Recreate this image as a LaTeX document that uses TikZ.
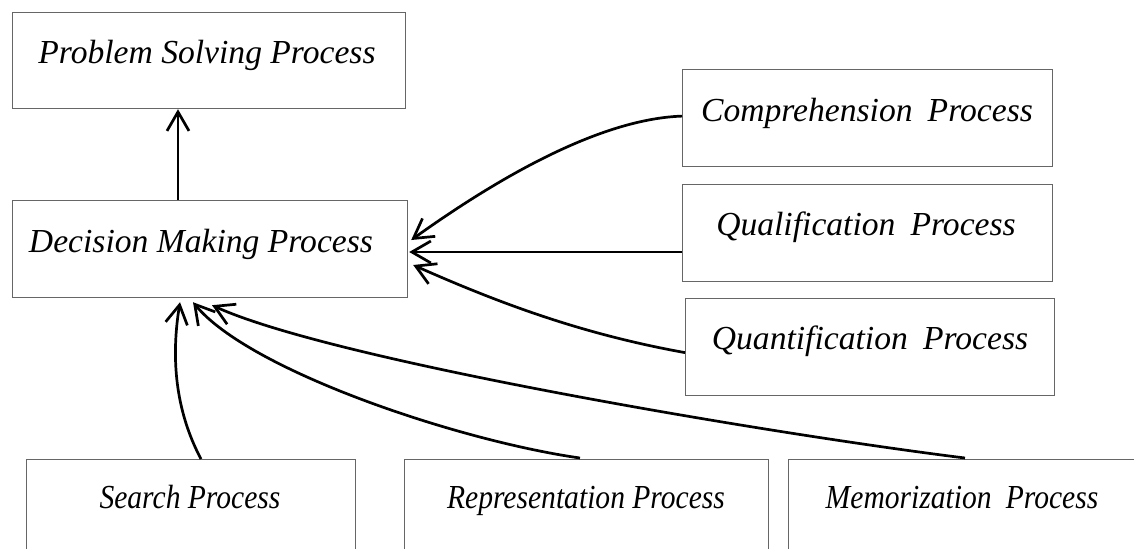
\documentclass[tikz,border=0pt]{standalone}
\usepackage{fontspec}
\setmainfont{Liberation Serif}
\newfontfamily\condserif{Liberation Serif}[FakeStretch=0.88]
\usetikzlibrary{arrows.meta,calc}
\begin{document}
\begin{tikzpicture}[x=0.5pt,y=-0.5pt,
  box/.style={draw=black!60, line width=0.6pt, rectangle, inner sep=0pt, anchor=north west, minimum height=48.5pt},
  lbl/.style={font=\fontsize{16.8}{18}\selectfont\itshape, anchor=base, inner sep=0pt},
  blbl/.style={font=\condserif\fontsize{16.8}{18}\selectfont\itshape, anchor=base, inner sep=0pt},
  conn/.style={line width=1.35pt, -{Straight Barb[length=9.5pt,width=11pt,line width=1.35pt]}}]
\useasboundingbox (0,0) rectangle (1134,548);

% boxes
\node[box, minimum width=196.5pt, minimum height=48pt] (ps) at (12,12) {};
\node[box, minimum width=197.5pt] (dm) at (12,200) {};
\node[box, minimum width=185pt] (comp) at (682,69) {};
\node[box, minimum width=185pt] (qual) at (682,184) {};
\node[box, minimum width=184.5pt] (quant) at (685,298) {};
\node[box, minimum width=164.5pt, minimum height=70pt] (search) at (26,459) {};
\node[box, minimum width=182pt, minimum height=70pt] (rep) at (404,459) {};
\node[box, minimum width=181pt, minimum height=70pt] (mem) at (788,459) {};

% labels
\node[lbl] (pst) at (207,63) {Problem Solving Process};
\node[lbl] (dmt) at (201,252) {Decision Making Process};
\node[lbl] (compt) at (867,121) {Comprehension\hspace{0.2em} Process};
\node[lbl] (qualt) at (866,235) {Qualification\hspace{0.2em} Process};
\node[lbl] (quantt) at (870,349) {Quantification\hspace{0.2em} Process};
\node[blbl] (searcht) at (190,508) {Search Process};
\node[blbl] (rept) at (586,508) {Representation Process};
\node[blbl] (memt) at (962,508) {Memorization\hspace{0.2em} Process};

% arrow tip points on the Decision Making box
\coordinate (t1) at ($(dm.north east)+(3,40)$);
\coordinate (t2) at ($(dm.north east)+(1,52)$);
\coordinate (t3) at ($(dm.north east)+(5,65)$);
\coordinate (t4) at ($(dm.south west)+(168,4)$);
\coordinate (t5) at ($(dm.south west)+(181,4)$);
\coordinate (t6) at ($(dm.south west)+(200,7)$);

% connectors
\draw[conn] ($(dm.north west)+(166,0)$) -- ($(ps.south west)+(166,0)$);
\draw[conn] ($(comp.west)+(0,-2)$) .. controls +(-90,3) and +(70,-50) .. (t1);
\draw[conn] (qual.west |- t2) -- (t2);
\draw[conn] ($(quant.west)+(0,5.5)$) .. controls +(-100,-18) and +(90,40) .. (t3);
\draw[conn] ($(search.north west)+(175,0)$) .. controls +(-26,-49) and +(-9,55) .. (t4);
\draw[conn] ($(rep.north west)+(176,-1)$) .. controls +(-120,-17) and +(57,69) .. (t5);
\draw[conn] ($(mem.north west)+(177,-1)$) .. controls +(-200,-25) and +(120,55) .. (t6);
\end{tikzpicture}
\end{document}
